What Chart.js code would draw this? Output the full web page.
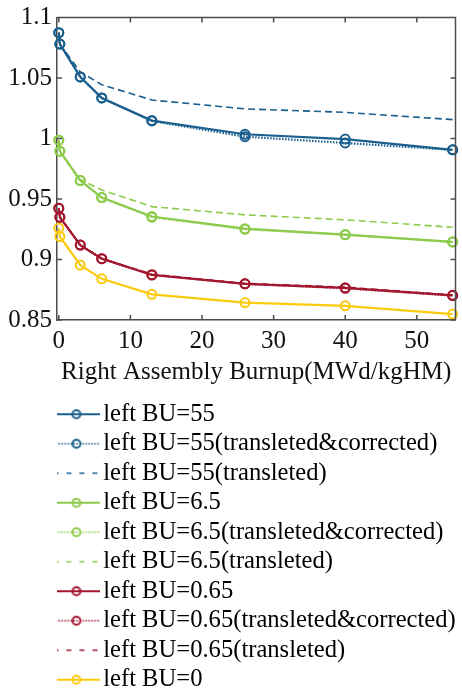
<!DOCTYPE html>
<html>
<head>
<meta charset="utf-8">
<script src="https://cdn.jsdelivr.net/npm/chart.js@4.4.0/dist/chart.umd.min.js"></script>
<style>
  html, body { margin: 0; padding: 0; background: #fff; overflow: hidden; }
  #wrap { width: 462px; height: 702px; }
</style>
</head>
<body>
<div id="wrap"><canvas id="burnupChart" width="462" height="702"></canvas></div>
<script>
// burnup points of the right assembly (MWd/kgHM)
const burnup = [0, 0.15, 3, 6, 13, 26, 40, 55];

// k values
const bu55 = [1.0875, 1.078, 1.0509, 1.0335, 1.0148, 1.0035, 0.9995, 0.9906];
const bu55Corr = [1.0875, 1.078, 1.0509, 1.0335, 1.0145, 1.0015, 0.9963, 0.9906];
const bu55Trans = [1.0875, 1.078, 1.055, 1.0445, 1.0318, 1.0245, 1.0216, 1.0156];

const bu65 = [0.9986, 0.9895, 0.9652, 0.9512, 0.9355, 0.9255, 0.9206, 0.9146];
const bu65Corr = [0.9986, 0.9895, 0.9652, 0.9512, 0.9350, 0.9250, 0.9204, 0.9144];
const bu65Trans = [0.9986, 0.9895, 0.966, 0.9575, 0.9437, 0.9369, 0.9328, 0.9266];

const bu065 = [0.9423, 0.935, 0.9119, 0.9007, 0.8872, 0.8799, 0.8766, 0.8704];
const bu065Corr = [0.9423, 0.935, 0.9119, 0.9007, 0.8875, 0.8799, 0.8762, 0.8702];
const bu065Trans = [0.9423, 0.935, 0.9119, 0.9007, 0.8878, 0.8802, 0.8772, 0.8706];

const bu0 = [0.926, 0.919, 0.8954, 0.884, 0.8712, 0.8644, 0.8617, 0.8549];

const xTicks = [0, 10, 20, 30, 40, 50];
const yTicks = [0.85, 0.9, 0.95, 1, 1.05, 1.1];

const blue = "#1b5f8e";
const green = "#8ccb4b";
const red = "#a3172f";
const yellow = "#fcca0c";
const axisColor = "#4d4d4d";
const serif = "'Liberation Serif', 'Times New Roman', serif";

const points = (ys) => burnup.map((b, i) => ({ x: b, y: ys[i] }));

const makeSeries = (label, ys, color, kind) => ({
  label: label,
  data: points(ys),
  borderColor: color,
  backgroundColor: color,
  borderWidth: kind === "dashed" ? 1.6 : 2.2,
  borderDash: kind === "dotted" ? [1.5, 1.5] : kind === "dashed" ? [7, 4] : [],
  pointRadius: kind === "dashed" ? 0 : 4.5,
  pointBorderWidth: 2,
  pointBorderColor: color,
  pointBackgroundColor: "rgba(0,0,0,0)",
  tension: 0,
  clip: false,
  sample: { color: color, kind: kind },
});

const datasets = [
  makeSeries("left BU=55", bu55, blue, "solid"),
  makeSeries("left BU=55(transleted&corrected)", bu55Corr, blue, "dotted"),
  makeSeries("left BU=55(transleted)", bu55Trans, blue, "dashed"),
  makeSeries("left BU=6.5", bu65, green, "solid"),
  makeSeries("left BU=6.5(transleted&corrected)", bu65Corr, green, "dotted"),
  makeSeries("left BU=6.5(transleted)", bu65Trans, green, "dashed"),
  makeSeries("left BU=0.65", bu065, red, "solid"),
  makeSeries("left BU=0.65(transleted&corrected)", bu065Corr, red, "dotted"),
  makeSeries("left BU=0.65(transleted)", bu065Trans, red, "dashed"),
  makeSeries("left BU=0", bu0, yellow, "solid"),
];

// little line+marker pictures used as legend symbols
const makeSample = ({ color, kind }) => {
  const c = document.createElement("canvas");
  c.width = 48;
  c.height = 14;
  const g = c.getContext("2d");
  g.strokeStyle = color;
  g.lineWidth = kind === "solid" ? 2.2 : 1.6;
  g.setLineDash(kind === "dotted" ? [1.5, 1.5] : kind === "dashed" ? [5, 8] : []);
  g.beginPath();
  g.moveTo(kind === "dashed" ? 1 : 0, 7);
  g.lineTo(48, 7);
  g.stroke();
  if (kind !== "dashed") {
    g.setLineDash([]);
    g.lineWidth = 2;
    g.beginPath();
    g.arc(24, 7, 4, 0, Math.PI * 2);
    g.stroke();
  }
  return c;
};

const samples = datasets.map((d) => makeSample(d.sample));

// box frame with inward ticks like the original axes
const boxTicks = {
  id: "boxTicks",
  afterDatasetsDraw(chart) {
    const { ctx, chartArea: a, scales } = chart;
    ctx.save();
    ctx.strokeStyle = axisColor;
    ctx.lineWidth = 1.5;
    ctx.beginPath();
    ctx.moveTo(a.left, a.top);
    ctx.lineTo(a.right, a.top);
    ctx.lineTo(a.right, a.bottom);
    xTicks.forEach((v) => {
      const px = scales.x.getPixelForValue(v);
      ctx.moveTo(px, a.bottom);
      ctx.lineTo(px, a.bottom - 5);
      ctx.moveTo(px, a.top);
      ctx.lineTo(px, a.top + 5);
    });
    yTicks.forEach((v) => {
      const py = scales.y.getPixelForValue(v);
      ctx.moveTo(a.left, py);
      ctx.lineTo(a.left + 5, py);
      ctx.moveTo(a.right, py);
      ctx.lineTo(a.right - 5, py);
    });
    ctx.stroke();
    ctx.restore();
  },
};

const config = {
  type: "line",
  data: { datasets: datasets },
  options: {
    responsive: false,
    animation: false,
    devicePixelRatio: 1,
    layout: { padding: { top: 13, right: -3, bottom: 0, left: 0 } },
    scales: {
      x: {
        type: "linear",
        min: -0.25,
        max: 55.4,
        afterBuildTicks: (scale) => {
          scale.ticks = xTicks.map((v) => ({ value: v }));
        },
        afterFit: (scale) => {
          scale.height = 77;
        },
        ticks: {
          color: "#111",
          padding: 9,
          maxRotation: 0,
          font: { family: serif, size: 25, lineHeight: 1 },
          callback: (v) => String(v),
        },
        grid: { display: true, drawOnChartArea: false, drawTicks: false },
        border: { display: true, color: axisColor, width: 1.5 },
        title: {
          display: true,
          text: "Right Assembly Burnup(MWd/kgHM)",
          color: "#111",
          font: { family: serif, size: 25 },
          padding: { top: 10, bottom: 10 },
        },
      },
      y: {
        min: 0.85,
        max: 1.1,
        afterBuildTicks: (scale) => {
          scale.ticks = yTicks.map((v) => ({ value: v }));
        },
        afterFit: (scale) => {
          scale.width = 57;
        },
        ticks: {
          color: "#111",
          padding: 5,
          font: { family: serif, size: 25, lineHeight: 1 },
          callback: (v) => String(v),
        },
        grid: { display: true, drawOnChartArea: false, drawTicks: false },
        border: { display: true, color: axisColor, width: 1.5 },
      },
    },
    plugins: {
      tooltip: { enabled: false },
      legend: {
        position: "bottom",
        align: "start",
        fullSize: false,
        labels: {
          usePointStyle: true,
          pointStyleWidth: 29,
          padding: 4.9,
          color: "#000",
          font: { family: serif, size: 24.6 },
          generateLabels: (chart) => {
            const items = Chart.defaults.plugins.legend.labels.generateLabels(chart);
            items.forEach((item, i) => {
              item.pointStyle = samples[i];
            });
            return items;
          },
        },
      },
    },
  },
  plugins: [boxTicks],
};

const burnupChart = new Chart(document.getElementById("burnupChart"), config);
</script>
</body>
</html>
